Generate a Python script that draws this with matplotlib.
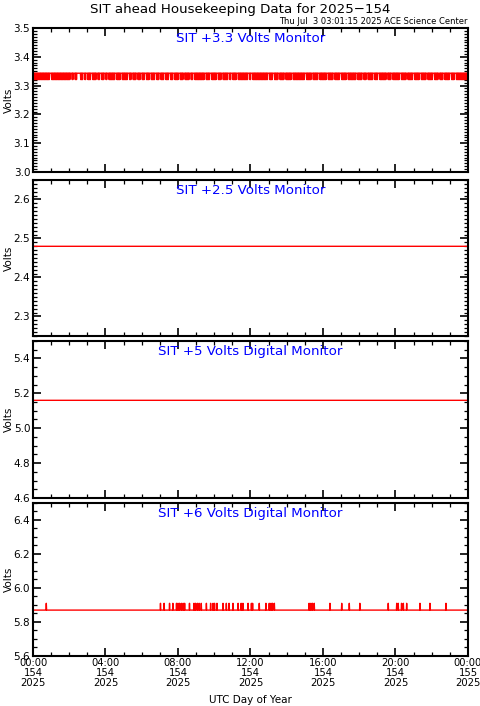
import numpy as np
import matplotlib.pyplot as plt
from matplotlib.ticker import MultipleLocator

# Data (time in hours of day 154)
title = "SIT ahead Housekeeping Data for 2025\u2212154"
stamp = "Thu Jul  3 03:01:15 2025 ACE Science Center"
panel_titles = ["SIT +3.3 Volts Monitor", "SIT +2.5 Volts Monitor",
                "SIT +5 Volts Digital Monitor", "SIT +6 Volts Digital Monitor"]
ylims = [(3.0, 3.5), (2.25, 2.65), (4.6, 5.5), (5.6, 6.5)]
major_steps = [0.1, 0.1, 0.2, 0.2]
minor_steps = [0.01, 0.01, 0.05, 0.05]

xtick_hours = [0, 4, 8, 12, 16, 20, 24]
xtick_labels = ["00:00\n154\n2025", "04:00\n154\n2025", "08:00\n154\n2025",
                "12:00\n154\n2025", "16:00\n154\n2025", "20:00\n154\n2025",
                "00:00\n155\n2025"]

# +3.3 V monitor flips between two digitiser levels every sample,
# except in short stretches where it stays on the upper level
p1_low, p1_high = 3.321, 3.343
p1_gaps = [0.92, 2.06, 2.24, 2.43, 2.52, 2.76, 2.94, 3.18, 3.49, 3.68, 3.92,
           4.08, 4.51, 4.82, 5.24, 5.44, 5.70, 5.92, 6.16, 6.44, 6.71, 6.95,
           7.23, 7.50, 7.72, 8.04, 8.28, 8.64, 8.83, 9.47, 9.75, 10.11, 10.39,
           10.76, 10.94, 11.22, 11.86, 12.01, 12.97, 13.24, 13.52, 13.85,
           14.25, 14.99, 15.36, 15.72, 16.18, 16.55, 16.92, 17.29, 17.84,
           18.17, 18.39, 18.76, 19.03, 19.49, 19.77, 20.23, 20.60, 20.97,
           21.33, 21.70, 22.07, 22.35, 22.62, 22.99, 23.26]
gap_minutes = 6

p2_level = 2.48
p3_level = 5.16

# +6 V monitor: flat with single-sample upward blips
p4_base, p4_spike = 5.87, 5.91
p4_spikes = [0.74, 7.04, 7.23, 7.54, 7.72, 7.91, 8.00, 8.09, 8.18, 8.28, 8.37,
             8.64, 8.88, 8.97, 9.07, 9.16, 9.29, 9.56, 9.80, 9.93, 10.02,
             10.15, 10.48, 10.67, 10.81, 11.03, 11.31, 11.49, 11.59, 11.86,
             12.05, 12.12, 12.48, 12.85, 13.04, 13.13, 13.22, 13.31, 15.24,
             15.33, 15.42, 15.52, 16.38, 17.03, 17.45, 18.04, 19.60, 20.06,
             20.15, 20.34, 20.43, 20.61, 21.35, 21.90, 22.78]

# one sample per minute
minutes = np.arange(0, 24 * 60 + 1)
hours = minutes / 60.0

v1 = np.where(minutes % 2 == 0, p1_low, p1_high)
for g in p1_gaps:
    m0 = int(round(g * 60))
    v1[m0:m0 + gap_minutes] = p1_high

v4 = np.full(len(minutes), p4_base)
for s in p4_spikes:
    v4[int(round(s * 60))] = p4_spike

series = [v1, np.full(len(minutes), p2_level), np.full(len(minutes), p3_level), v4]

plt.rcParams['font.family'] = 'DejaVu Sans'
fig = plt.figure(figsize=(4.81, 7.06), dpi=100)

W, H = 481.0, 706.0
left, right = 33, 468
boxes = [(28, 172), (180, 336), (341, 498), (503, 656)]

for i, (top, bot) in enumerate(boxes):
    ax = fig.add_axes([left / W, 1 - bot / H, (right - left) / W, (bot - top) / H])
    ax.plot(hours, series[i], color='red', lw=1.0)
    ax.set_xlim(0, 24)
    ax.set_ylim(*ylims[i])
    ax.yaxis.set_major_locator(MultipleLocator(major_steps[i]))
    ax.yaxis.set_minor_locator(MultipleLocator(minor_steps[i]))
    ax.xaxis.set_major_locator(MultipleLocator(4))
    ax.xaxis.set_minor_locator(MultipleLocator(1))
    ax.tick_params(which='both', direction='in', top=True, right=True,
                   labelsize=7.5, pad=2)
    ax.tick_params(which='major', length=6, width=1.2)
    ax.tick_params(which='minor', length=3, width=0.9)
    ax.yaxis.set_major_formatter(plt.FormatStrFormatter('%.1f'))
    for sp in ax.spines.values():
        sp.set_linewidth(1.5)
    ax.set_ylabel("Volts", fontsize=7.5)
    ax.yaxis.set_label_coords(-0.045, 0.5)
    ax.text(0.5, 0.975, panel_titles[i], transform=ax.transAxes, ha='center',
            va='top', color='blue', fontsize=9.6)
    if i < 3:
        ax.set_xticklabels([])
    else:
        ax.set_xticks(xtick_hours)
        ax.set_xticklabels(xtick_labels, fontsize=7.2, linespacing=1.0)
        ax.tick_params(axis='x', pad=1.5)
        ax.set_xlabel("UTC Day of Year", fontsize=7.5, labelpad=5)

fig.text(0.5, 1 - 9 / H, title, ha='center', va='center', fontsize=9.6)
fig.text(right / W, 1 - 21 / H, stamp, ha='right', va='center', fontsize=6)

fig.savefig("out.png", dpi=100)
